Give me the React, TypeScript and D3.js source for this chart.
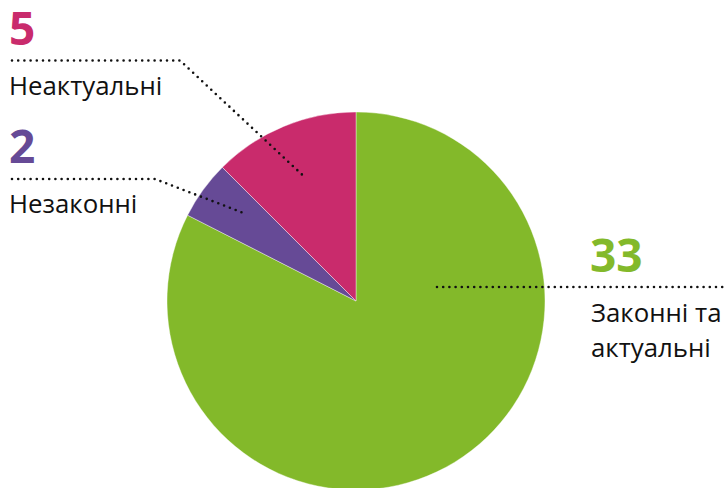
import React from "react";
import * as d3 from "d3";

const categories = ["Законні та актуальні", "Незаконні", "Неактуальні"];
const values = [33, 2, 5];
const colors = ["#83B92A", "#664A96", "#C92B6C"];

const W = 726;
const H = 488;
const cx = 356;
const cy = 301;
const R = 189;
const FONT = "'Open Sans', 'Noto Sans', sans-serif";

export default function App() {
  const pie = d3.pie<number>().sort(null).value((d) => d);
  const arcs = pie(values);
  const arcGen = d3.arc<d3.PieArcDatum<number>>().innerRadius(0).outerRadius(R);

  const mid = (a: d3.PieArcDatum<number>, r: number, shift = 0) => {
    const ang = (a.startAngle + a.endAngle) / 2 + shift;
    return [cx + r * Math.sin(ang), cy - r * Math.cos(ang)];
  };

  const pinkEnd = mid(arcs[2], R * 0.71);
  const purpleEnd = mid(arcs[1], R * 0.745, 0.04);

  const dotted = {
    fill: "none",
    stroke: "#111",
    strokeWidth: 2.6,
    strokeLinecap: "round" as const,
    strokeDasharray: "0 6.2",
  };

  const labelLines = d3.line();

  return (
    <svg
      width={W}
      height={H}
      style={{ position: "absolute", left: 0, top: 0, background: "#fff" }}
    >
      <g>
        {arcs.map((a, i) => (
          <path
            key={i}
            d={arcGen(a) || ""}
            transform={`translate(${cx},${cy})`}
            fill={colors[i]}
            stroke="#fff"
            strokeWidth={0.4}
          />
        ))}
      </g>

      {/* Pink: Неактуальні */}
      <text x={9} y={45} fill={colors[2]} fontFamily={FONT} fontWeight={700} fontSize={46}>
        {values[2]}
      </text>
      <path
        d={labelLines([[12, 60.5], [180, 60.5], [pinkEnd[0], pinkEnd[1]]]) || ""}
        {...dotted}
      />
      <text x={9} y={95} fill="#111" fontFamily={FONT} fontSize={25.8}>
        {categories[2]}
      </text>

      {/* Purple: Незаконні */}
      <text x={9} y={163} fill={colors[1]} fontFamily={FONT} fontWeight={700} fontSize={46}>
        {values[1]}
      </text>
      <path
        d={labelLines([[12, 179], [155, 179], [purpleEnd[0], purpleEnd[1]]]) || ""}
        {...dotted}
      />
      <text x={9} y={213} fill="#111" fontFamily={FONT} fontSize={25.8}>
        {categories[1]}
      </text>

      {/* Green: Законні та актуальні */}
      <text x={590} y={272} fill={colors[0]} fontFamily={FONT} fontWeight={700} fontSize={46}>
        {values[0]}
      </text>
      <path d={labelLines([[437, 287], [724, 287]]) || ""} {...dotted} />
      <text x={591} y={322} fill="#111" fontFamily={FONT} fontSize={25.8}>
        <tspan x={591}>Законні та</tspan>
        <tspan x={591} y={357}>актуальні</tspan>
      </text>
    </svg>
  );
}
